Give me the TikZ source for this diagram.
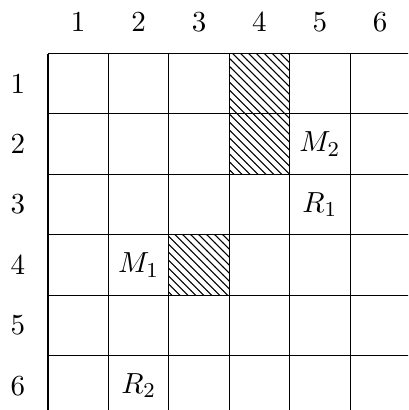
\documentclass[tikz,border=0pt]{standalone}
\usetikzlibrary{patterns}

\begin{document}
\begin{tikzpicture}[scale=0.8, every node/.style={font=\fontsize{11}{13}\selectfont}]
    % Rahmen festlegen
    \useasboundingbox (-0.795,0.886) rectangle (5.96,-5.902);
    \clip (-0.795,0.886) rectangle (5.96,-5.902);

    % Gesperrte Felder schraffieren
    \fill[pattern=north west lines] (3,0) rectangle (4,-2);
    \fill[pattern=north west lines] (2,-3) rectangle (3,-4);

    % Draw grid
    \draw (0,0) grid (7,-7);

    % Beschriftung der Spalten und Zeilen
    \foreach \i in {1,...,6} {
        \node (col\i) at (\i-0.5,0.52) {$\i$};
        \node (row\i) at (-0.5,-\i+0.5) {$\i$};
    }

    % Die Objekte eintragen
    \node (m2) at (4.5,-1.5) {$M_2$};
    \node (r1) at (4.5,-2.5) {$R_1$};
    \node (m1) at (1.5,-3.5) {$M_1$};
    \node (r2) at (1.5,-5.5) {$R_2$};
\end{tikzpicture}
\end{document}
